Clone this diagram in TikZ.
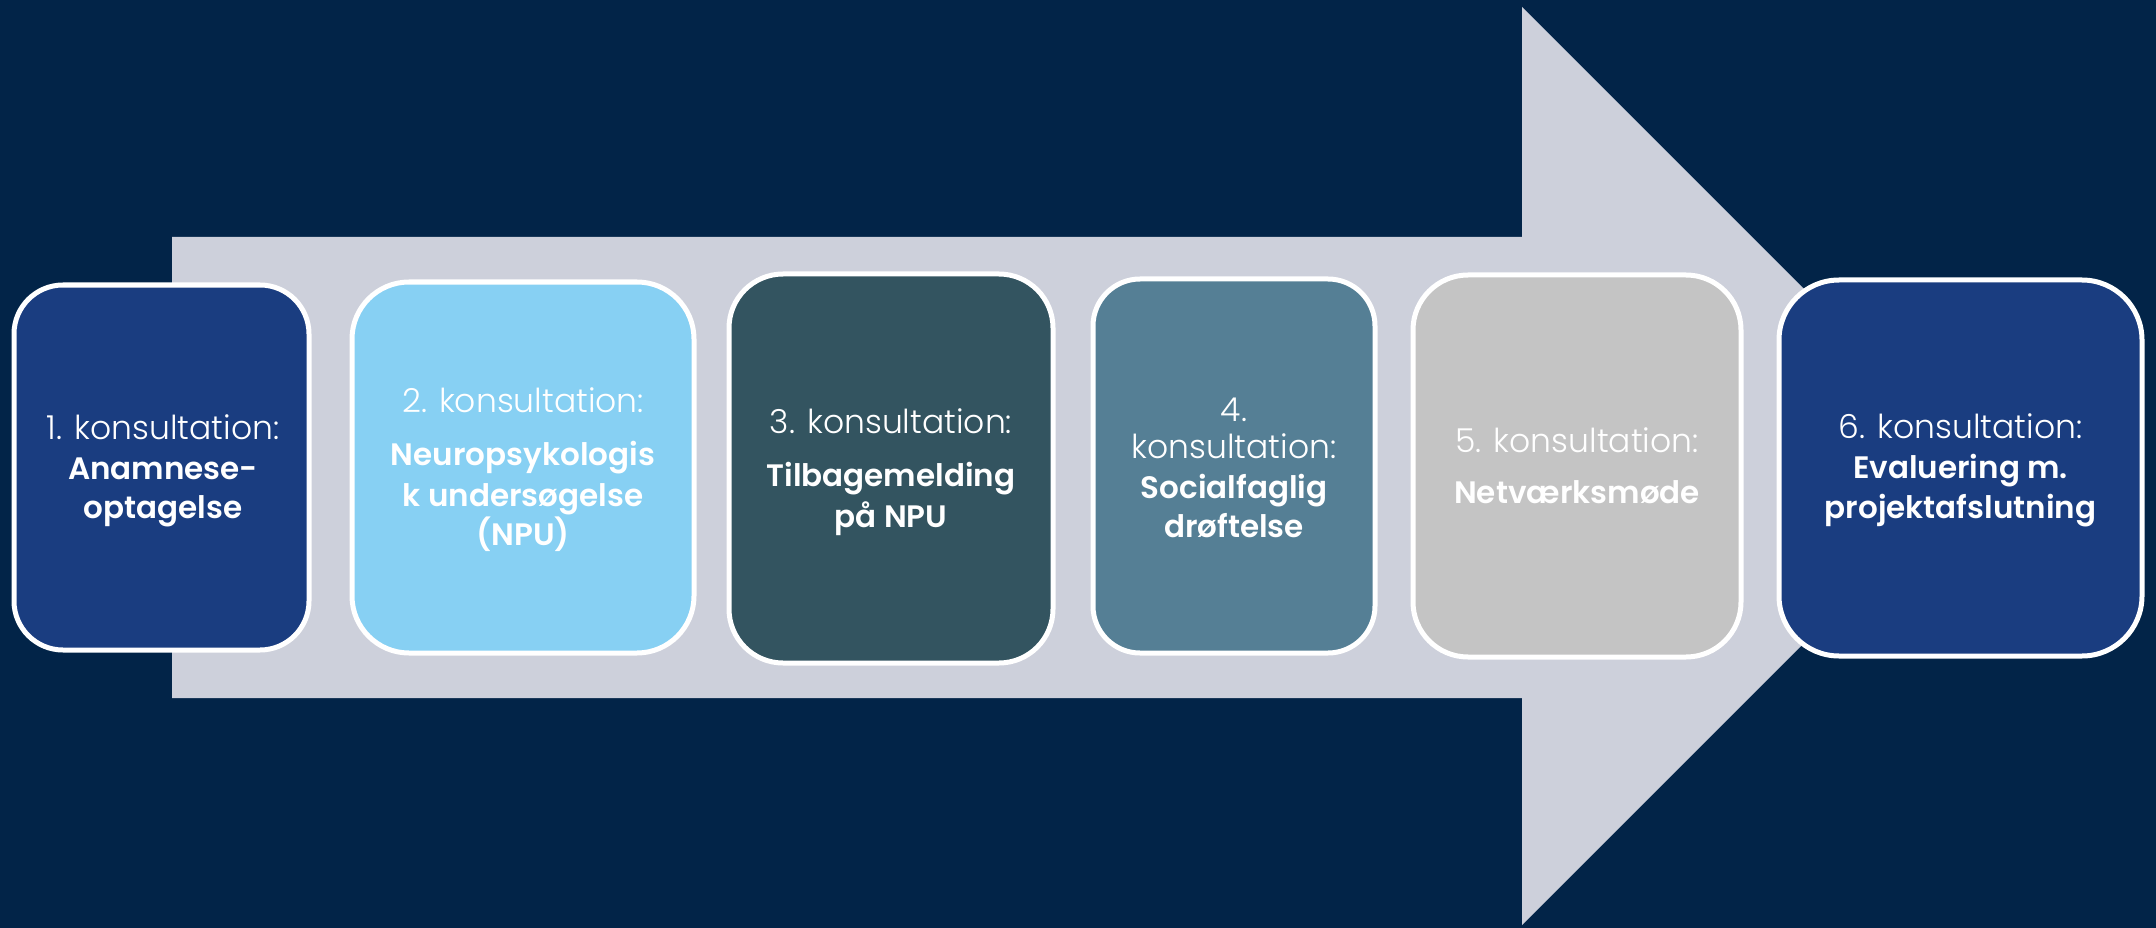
\documentclass[tikz,border=0pt]{standalone}
\usepackage{fontspec}
\setmainfont{Poppins}[UprightFont=* Light,BoldFont=* SemiBold]
\begin{document}
\begin{tikzpicture}[x=1pt,y=-1pt,
  box/.style={draw=white,line width=5pt,rectangle,inner sep=0pt,outer sep=0pt},
  reg/.style={text=white,anchor=base,inner sep=0pt,font=\fontsize{33}{40}\selectfont},
  bld/.style={text=white,anchor=base,inner sep=0pt,font=\fontsize{31}{40}\selectfont\bfseries},
]
\definecolor{bg}{HTML}{022448}
\definecolor{arrowc}{HTML}{CDD0DB}
\definecolor{cA}{HTML}{1A3D80}
\definecolor{cB}{HTML}{87D0F3}
\definecolor{cC}{HTML}{335460}
\definecolor{cD}{HTML}{557F95}
\definecolor{cE}{HTML}{C4C4C4}
\useasboundingbox (0,0) rectangle (2156,928);
\fill[bg] (0,0) rectangle (2156,928);
\fill[arrowc] (172,237) -- (1522,237) -- (1522,7) -- (1981,466) -- (1522,925) -- (1522,698) -- (172,698) -- cycle;
% boxes
\node[box,fill=cA,rounded corners=49pt,minimum width=295pt,minimum height=365pt] (b1) at (161.5,467.5) {};
\node[box,fill=cB,rounded corners=57pt,minimum width=342pt,minimum height=371pt] (b2) at (523,467.5) {};
\node[box,fill=cC,rounded corners=54pt,minimum width=324pt,minimum height=389pt] (b3) at (891,468.5) {};
\node[box,fill=cD,rounded corners=47pt,minimum width=282pt,minimum height=374pt] (b4) at (1234,466) {};
\node[box,fill=cE,rounded corners=55pt,minimum width=328pt,minimum height=382pt] (b5) at (1577,466) {};
\node[box,fill=cA,rounded corners=60pt,minimum width=363pt,minimum height=376pt] (b6) at (1960.5,468) {};
% labels
\node[reg] (t1a) at (163,439) {1. konsultation:};
\node[bld] (t1b) at (163,479) {Anamnese-};
\node[bld] (t1c) at (163,518) {optagelse};
\node[reg] (t2a) at (523,412) {2. konsultation:};
\node[bld] (t2b) at (523,465) {Neuropsykologis};
\node[bld] (t2c) at (523,506) {k undersøgelse};
\node[bld] (t2d) at (523,545) {(NPU)};
\node[reg] (t3a) at (891,433) {3. konsultation:};
\node[bld] (t3b) at (891,486) {Tilbagemelding};
\node[bld] (t3c) at (891,527) {på NPU};
\node[reg] (t4a) at (1234,421) {4.};
\node[reg] (t4b) at (1234,458) {konsultation:};
\node[bld] (t4c) at (1234,498) {Socialfaglig};
\node[bld] (t4d) at (1234,537) {drøftelse};
\node[reg] (t5a) at (1577,452) {5. konsultation:};
\node[bld] (t5b) at (1577,503) {Netværksmøde};
\node[reg] (t6a) at (1960.5,438) {6. konsultation:};
\node[bld] (t6b) at (1960.5,478) {Evaluering m.};
\node[bld] (t6c) at (1960.5,518) {projektafslutning};
\end{tikzpicture}
\end{document}
